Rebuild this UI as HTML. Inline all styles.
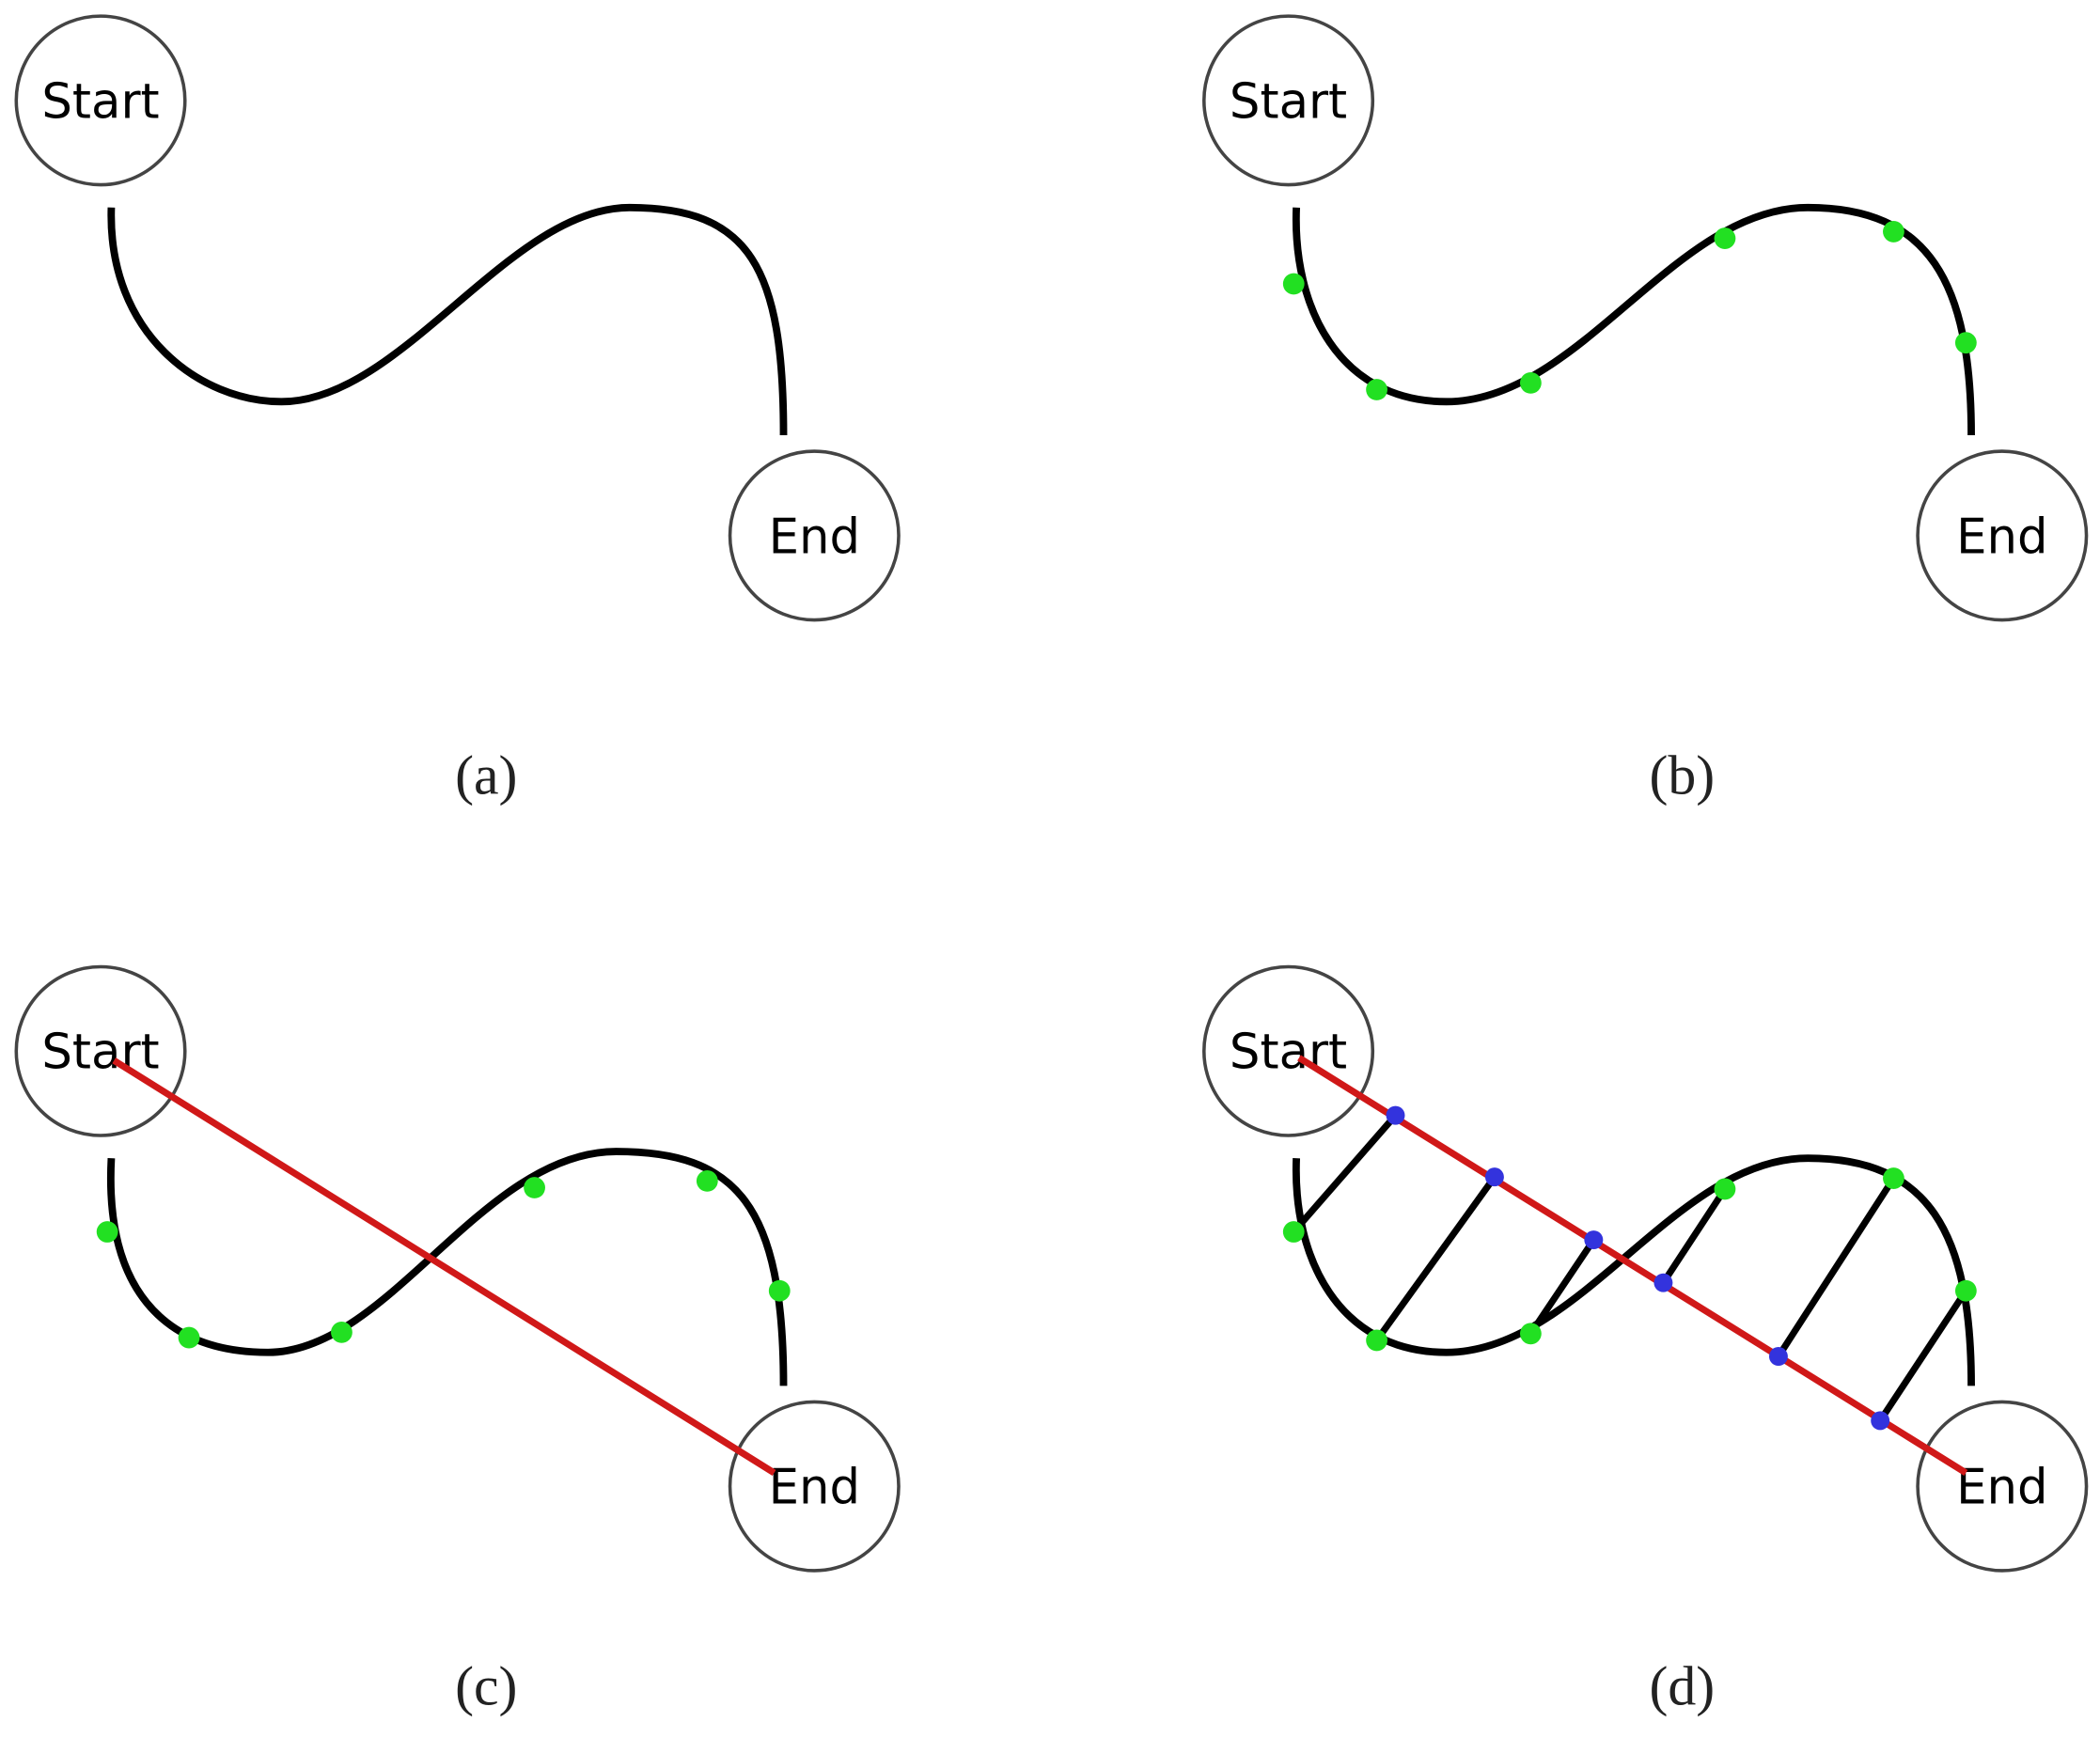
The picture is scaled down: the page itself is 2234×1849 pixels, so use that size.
<!DOCTYPE html>
<html><head><meta charset="utf-8"><style>html,body{margin:0;padding:0;background:#fff}svg{display:block}</style></head>
<body>
<svg width="2234" height="1849" viewBox="0 0 1568 1298" xmlns="http://www.w3.org/2000/svg">
<g font-family="'DejaVu Sans','Liberation Sans',sans-serif" font-size="36" text-anchor="middle">
<!-- (a) -->
<g fill="none" stroke="#000">
<circle cx="75" cy="75" r="63" stroke="#444" stroke-width="2.5"/>
<circle cx="608" cy="400" r="63" stroke="#444" stroke-width="2.5"/>
<path d="M83,155 C80,250 150,300 210,300 C300,300 380,155 470,155 C560,155 585,200 585,325" stroke-width="5.5"/>
</g>
<text x="75" y="88">Start</text><text x="608" y="413">End</text>
<!-- (b) -->
<g fill="none" stroke="#000">
<circle cx="962" cy="75" r="63" stroke="#444" stroke-width="2.5"/>
<circle cx="1495" cy="400" r="63" stroke="#444" stroke-width="2.5"/>
<path d="M968,155 C965,230 1000,300 1080,300 C1180,300 1250,155 1350,155 C1440,155 1472,210 1472,325" stroke-width="5.5"/>
</g>
<g fill="#22e022"><circle cx="966" cy="212" r="8"/><circle cx="1028" cy="291" r="8"/><circle cx="1143" cy="286" r="8"/><circle cx="1288" cy="178" r="8"/><circle cx="1414" cy="173" r="8"/><circle cx="1468" cy="256" r="8"/></g>
<text x="962" y="88">Start</text><text x="1495" y="413">End</text>
<!-- (c) -->
<g fill="none" stroke="#000">
<circle cx="75" cy="785" r="63" stroke="#444" stroke-width="2.5"/>
<circle cx="608" cy="1110" r="63" stroke="#444" stroke-width="2.5"/>
<path d="M83,865 C78,960 120,1010 200,1010 C290,1010 360,860 460,860 C550,860 585,900 585,1035" stroke-width="5.5"/>
</g>
<g fill="#22e022"><circle cx="80" cy="920" r="8"/><circle cx="141" cy="999" r="8"/><circle cx="255" cy="995" r="8"/><circle cx="399" cy="887" r="8"/><circle cx="528" cy="882" r="8"/><circle cx="582" cy="964" r="8"/></g>
<text x="75" y="798">Start</text><text x="608" y="1123">End</text>
<line x1="85" y1="792" x2="578" y2="1100" stroke="#d01818" stroke-width="5"/>
<!-- (d) -->
<g fill="none" stroke="#000">
<circle cx="962" cy="785" r="63" stroke="#444" stroke-width="2.5"/>
<circle cx="1495" cy="1110" r="63" stroke="#444" stroke-width="2.5"/>
<path d="M968,865 C965,940 1000,1010 1080,1010 C1180,1010 1250,865 1350,865 C1440,865 1472,920 1472,1035" stroke-width="5.5"/>
<g stroke-width="5">
<line x1="966" y1="920" x2="1042" y2="833"/>
<line x1="1028" y1="1001" x2="1116" y2="879"/>
<line x1="1143" y1="996" x2="1190" y2="926"/>
<line x1="1288" y1="888" x2="1242" y2="958"/>
<line x1="1414" y1="880" x2="1328" y2="1013"/>
<line x1="1468" y1="964" x2="1404" y2="1061"/>
</g>
</g>
<text x="962" y="798">Start</text><text x="1495" y="1123">End</text>
<line x1="970" y1="790" x2="1468" y2="1100" stroke="#d01818" stroke-width="5"/>
<g fill="#22e022"><circle cx="966" cy="920" r="8"/><circle cx="1028" cy="1001" r="8"/><circle cx="1143" cy="996" r="8"/><circle cx="1288" cy="888" r="8"/><circle cx="1414" cy="880" r="8"/><circle cx="1468" cy="964" r="8"/></g>
<g fill="#3333dd"><circle cx="1042" cy="833" r="7"/><circle cx="1116" cy="879" r="7"/><circle cx="1190" cy="926" r="7"/><circle cx="1242" cy="958" r="7"/><circle cx="1328" cy="1013" r="7"/><circle cx="1404" cy="1061" r="7"/></g>
</g>
<g font-family="'Liberation Serif',serif" font-size="42" text-anchor="middle" fill="#222">
<text x="363" y="593">(a)</text><text x="1256" y="593">(b)</text>
<text x="363" y="1273">(c)</text><text x="1256" y="1273">(d)</text>
</g>
</svg>
</body></html>
